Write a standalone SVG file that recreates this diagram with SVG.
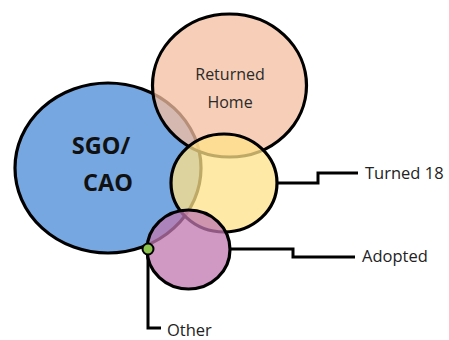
<svg xmlns="http://www.w3.org/2000/svg" width="449" height="340" viewBox="0 0 449 340">
  <style>
    .set { stroke: #000; stroke-width: 3.2; fill-opacity: 0.75; }
    .link { fill: none; stroke: #000; stroke-width: 3; stroke-linejoin: miter; }
    .lbl { font-family: "Open Sans", "Liberation Sans", sans-serif; font-size: 16.5px; fill: #222; }
    .big { font-family: "Open Sans", "Liberation Sans", sans-serif; font-size: 23.5px; font-weight: bold; fill: #111; text-anchor: middle; }
    .mid { font-family: "Open Sans", "Liberation Sans", sans-serif; font-size: 16px; fill: #2a2a2a; text-anchor: middle; }
  </style>
  <rect width="449" height="340" fill="#ffffff"/>

  <g id="connectors">
    <polyline class="link" points="277,183 318,183 318,173 358,173"/>
    <polyline class="link" points="230,249 293,249 293,257 355,257"/>
    <polyline class="link" points="148,253 148,328 161,328"/>
  </g>

  <g id="sgo-cao">
    <ellipse class="set" cx="108" cy="168" rx="93" ry="85" fill="#4a8ad6"/>
    <text class="big" x="101" y="154">SGO/</text>
    <text class="big" x="108" y="191">CAO</text>
  </g>

  <g id="returned-home">
    <ellipse class="set" cx="229.5" cy="85.5" rx="77" ry="71.5" fill="#f4bfa0"/>
    <text class="mid" x="230" y="80">Returned</text>
    <text class="mid" x="230" y="108">Home</text>
  </g>

  <g id="turned-18">
    <ellipse class="set" cx="224" cy="183" rx="53" ry="49" fill="#ffe188"/>
    <text class="lbl" x="365" y="179">Turned 18</text>
  </g>

  <g id="adopted">
    <ellipse class="set" cx="188.5" cy="249.5" rx="41.5" ry="39.5" fill="#bf77b0"/>
    <text class="lbl" x="362" y="262">Adopted</text>
  </g>

  <g id="other">
    <circle cx="148" cy="249" r="5.5" fill="#8dc34f" stroke="#000" stroke-width="2"/>
    <text class="lbl" x="167" y="336">Other</text>
  </g>
</svg>
